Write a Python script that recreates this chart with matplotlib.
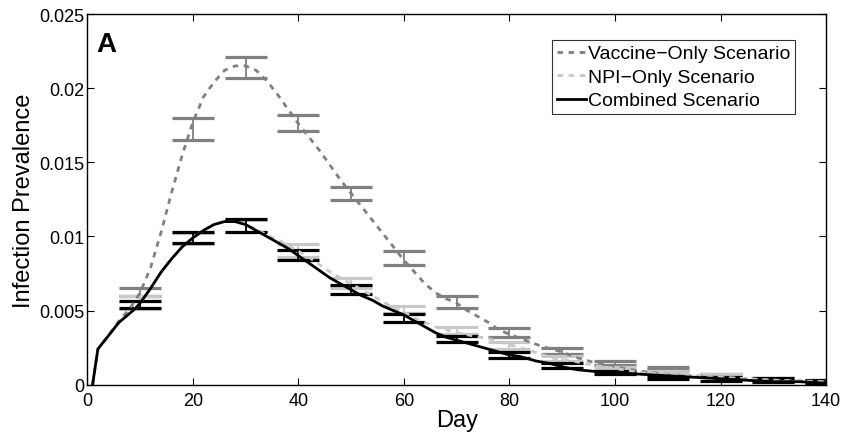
import matplotlib
matplotlib.use("Agg")
import matplotlib.pyplot as plt
import numpy as np

plt.rcParams['font.family'] = ['Liberation Sans', 'DejaVu Sans']

# ---- curve data ----
comb_days = [1, 2, 4, 6, 8, 9, 10, 12, 14, 16, 18, 20, 22, 24, 26, 28, 30, 32, 34, 36, 38, 40,
             42, 44, 46, 48, 50, 52, 54, 56, 58, 60, 62, 64, 66, 68, 70, 72, 75, 78, 80, 82, 85,
             88, 90, 93, 96, 100, 105, 110, 115, 120, 125, 130, 135, 140]
comb_vals = [0.0, 0.0024, 0.0033, 0.0042, 0.0048, 0.0051, 0.0055, 0.0065, 0.0076, 0.0085, 0.0093,
             0.0099, 0.0104, 0.0108, 0.0110, 0.0110, 0.0108, 0.0104, 0.0100, 0.0096, 0.0092, 0.0087,
             0.0082, 0.0077, 0.0072, 0.0068, 0.0064, 0.0060, 0.0057, 0.0053, 0.0050, 0.0047, 0.0043,
             0.0039, 0.0035, 0.0032, 0.0030, 0.0028, 0.0025, 0.0022, 0.0020, 0.0019, 0.0016, 0.0014,
             0.0012, 0.0010, 0.0009, 0.0008, 0.0007, 0.0006, 0.0005, 0.0004, 0.0003, 0.0002, 0.0002,
             0.0001]

vacc_days = [1, 2, 4, 6, 8, 10, 12, 14, 16, 18, 20, 22, 24, 26, 28, 30, 32, 34, 36, 38, 40, 42, 44,
             46, 48, 50, 52, 54, 56, 58, 60, 62, 64, 66, 68, 70, 72, 74, 76, 78, 80, 83, 86, 90, 93,
             96, 100, 105, 110, 115, 120, 125, 130, 140]
vacc_vals = [0.0, 0.0024, 0.0033, 0.0043, 0.0051, 0.0062, 0.0079, 0.0103, 0.0130, 0.0155, 0.0177,
             0.0194, 0.0204, 0.0212, 0.0215, 0.0215, 0.0212, 0.0205, 0.0196, 0.0186, 0.0176, 0.0167,
             0.0158, 0.0148, 0.0138, 0.0129, 0.0120, 0.0111, 0.0102, 0.0093, 0.0084, 0.0076, 0.0068,
             0.0062, 0.0058, 0.0055, 0.0050, 0.0046, 0.0042, 0.0037, 0.0034, 0.0030, 0.0026, 0.0022,
             0.0018, 0.0015, 0.0012, 0.0009, 0.0007, 0.0006, 0.0005, 0.0004, 0.0003, 0.0002]

npi_days = [1, 2, 4, 6, 8, 9, 10, 12, 14, 16, 18, 20, 22, 24, 26, 28, 30, 32, 34, 36, 38, 40, 42,
            44, 46, 48, 50, 52, 54, 56, 58, 60, 62, 64, 66, 68, 70, 73, 76, 80, 84, 88, 92, 96, 100,
            105, 110, 115, 120, 130, 140]
npi_vals = [0.0, 0.0024, 0.0033, 0.0042, 0.0048, 0.0051, 0.0055, 0.0065, 0.0076, 0.0085, 0.0093,
            0.0099, 0.0104, 0.0108, 0.0110, 0.0110, 0.0108, 0.0105, 0.0101, 0.0098, 0.0094, 0.0090,
            0.0086, 0.0081, 0.0076, 0.0072, 0.0068, 0.0064, 0.0060, 0.0056, 0.0052, 0.0049, 0.0045,
            0.0042, 0.0039, 0.0037, 0.0035, 0.0033, 0.0031, 0.0027, 0.0023, 0.0018, 0.0016, 0.0013,
            0.0011, 0.0008, 0.0007, 0.0006, 0.0005, 0.0003, 0.0002]

# ---- error bar data (lower / upper) ----
eb_days = [10, 20, 30, 40, 50, 60, 70, 80, 90, 100, 110, 120, 130, 140]
vacc_lo = [0.0060, 0.0165, 0.0207, 0.0171, 0.01243, 0.0081, 0.0052, 0.0032, 0.0021, 0.0013, 0.0010, 0.0006, 0.0003, 0.0001]
vacc_hi = [0.0065, 0.0180, 0.0221, 0.0182, 0.01334, 0.0090, 0.0060, 0.0038, 0.0025, 0.0016, 0.0012, 0.00075, 0.00045, 0.00027]
npi_lo = [0.0051, 0.0095, 0.0103, 0.0086, 0.0065, 0.0048, 0.0034, 0.0024, 0.0016, 0.0010, 0.0008, 0.0005, 0.0002, 0.0001]
npi_hi = [0.0060, 0.0102, 0.0111, 0.00946, 0.00721, 0.0053, 0.0039, 0.0029, 0.0019, 0.0012, 0.00095, 0.0007, 0.0004, 0.00025]
comb_lo = [0.00518, 0.00955, 0.0103, 0.0084, 0.00613, 0.00426, 0.00286, 0.0018, 0.00113, 0.00072, 0.00039, 0.00023, 0.00015, 0.0001]
comb_hi = [0.00563, 0.0103, 0.01115, 0.00905, 0.00674, 0.00478, 0.00331, 0.0022, 0.00145, 0.00095, 0.00061, 0.0005, 0.00043, 0.0003]

c_vacc = '#808080'
c_npi = '#c8c8c8'
c_comb = '#000000'

fig = plt.figure(figsize=(8.46, 4.39), dpi=100)
ax = fig.add_axes([0.1032, 0.1215, 0.8732, 0.8443])


def draw_eb(lo, hi, color):
    lo = np.array(lo)
    hi = np.array(hi)
    mid = (lo + hi) / 2
    ax.errorbar(eb_days, mid, yerr=[mid - lo, hi - mid], fmt='none', ecolor=color,
                elinewidth=1.3, capsize=15, capthick=2.3)


draw_eb(vacc_lo, vacc_hi, c_vacc)
draw_eb(npi_lo, npi_hi, c_npi)
draw_eb(comb_lo, comb_hi, c_comb)

ax.plot(vacc_days, vacc_vals, color=c_vacc, lw=2, ls=(0, (2, 2)), label='Vaccine\u2212Only Scenario')
ax.plot(npi_days, npi_vals, color=c_npi, lw=2, ls=(0, (2, 2)), label='NPI\u2212Only Scenario')
ax.plot(comb_days, comb_vals, color=c_comb, lw=2, label='Combined Scenario')

ax.set_xlim(0, 140)
ax.set_ylim(0, 0.025)
ax.set_xticks([0, 20, 40, 60, 80, 100, 120, 140])
ax.set_xticklabels(['0', '20', '40', '60', '80', '100', '120', '140'])
ax.set_yticks([0, 0.005, 0.01, 0.015, 0.02, 0.025])
ax.set_yticklabels(['0', '0.005', '0.01', '0.015', '0.02', '0.025'])
ax.tick_params(direction='in', top=True, right=True, labelsize=13, length=5, width=0.8)
ax.tick_params(axis='x', pad=5)
ax.tick_params(axis='y', pad=2)
for s in ax.spines.values():
    s.set_linewidth(1.0)

ax.set_xlabel('Day', fontsize=17, labelpad=0)
ax.set_ylabel('Infection Prevalence', fontsize=17, labelpad=3)

ax.text(0.012, 0.955, 'A', transform=ax.transAxes, fontsize=20, fontweight='bold',
        va='top', ha='left')

leg = ax.legend(loc='upper right', bbox_to_anchor=(0.958, 0.930), fontsize=14,
                frameon=True, fancybox=False, edgecolor='black', handlelength=1.5,
                handletextpad=0.1, borderpad=0.25, labelspacing=0.3, borderaxespad=0)
leg.get_frame().set_linewidth(0.8)

fig.savefig('out.png', dpi=100)
